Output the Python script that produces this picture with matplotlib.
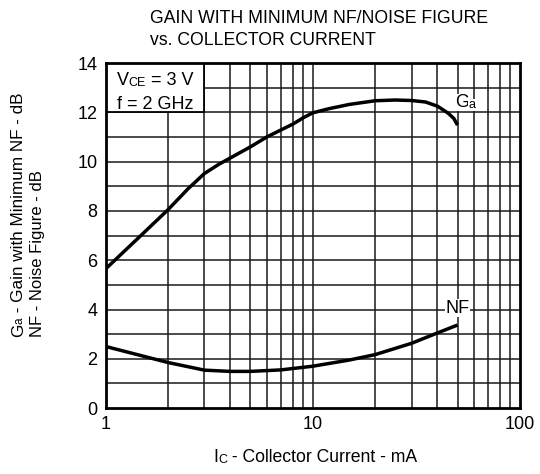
import matplotlib
matplotlib.use("Agg")
import matplotlib.pyplot as plt
from matplotlib.patches import Rectangle

fam = 'Liberation Sans'
plt.rcParams['font.family'] = [fam, 'DejaVu Sans']

ic_ga = [1, 1.5, 2, 2.5, 3, 3.5, 4, 5, 6, 7, 8, 9, 10, 12, 15, 20, 25, 30, 35, 40, 45, 48, 50]
ga = [5.65, 7.05, 8.05, 8.9, 9.52, 9.88, 10.15, 10.6, 11.0, 11.28, 11.52, 11.78, 11.98,
      12.15, 12.32, 12.47, 12.5, 12.48, 12.42, 12.25, 11.97, 11.75, 11.48]
ic_nf = [1, 1.5, 2, 3, 4, 5, 7, 10, 15, 20, 30, 40, 50]
nf = [2.5, 2.12, 1.85, 1.54, 1.49, 1.49, 1.55, 1.7, 1.95, 2.17, 2.63, 3.05, 3.37]

x_ticks = [1, 10, 100]
x_ticklabels = ['1', '10', '100']
y_ticks = [0, 2, 4, 6, 8, 10, 12, 14]

fig = plt.figure(figsize=(5.4, 4.74), dpi=100)
ax = fig.add_axes([0.1957, 0.139, 0.767, 0.728])
ax.set_xscale('log')
ax.set_xlim(1, 100)
ax.set_ylim(0, 14)

minor = [m * d for d in (1, 10) for m in range(2, 10)]
for x in minor + [10]:
    ax.axvline(x, color='#1a1a1a', lw=1.1, zorder=1)
for y in range(1, 14):
    ax.axhline(y, color='#1a1a1a', lw=1.1, zorder=1)

ax.plot(ic_ga, ga, color='black', lw=2.5, zorder=3, solid_capstyle='butt', solid_joinstyle='round')
ax.plot(ic_nf, nf, color='black', lw=2.5, zorder=3, solid_capstyle='butt', solid_joinstyle='round')

ax.set_xticks(x_ticks)
ax.set_xticklabels(x_ticklabels)
ax.xaxis.set_minor_locator(matplotlib.ticker.NullLocator())
ax.set_yticks(y_ticks)
ax.tick_params(length=0, labelsize=13, pad=6)
for s in ax.spines.values():
    s.set_linewidth(2.0)
    s.set_zorder(5)

# Condition box
ax.add_patch(Rectangle((1, 12), 2, 2, facecolor='white', edgecolor='black', lw=1.3, zorder=2))
t1 = ax.text(1.13, 13.1, 'V', fontsize=13, va='baseline', zorder=6)
t1c = ax.annotate('CE', xy=(1, 0), xycoords=t1, fontsize=9, va='bottom', ha='left', zorder=6)
ax.annotate(' = 3 V', xy=(1, 0), xycoords=t1c, fontsize=13, va='bottom', ha='left', zorder=6)
ax.text(1.13, 12.12, 'f = 2 GHz', fontsize=13, va='baseline', zorder=6)

# Curve labels
tg = ax.text(48.5, 12.22, 'G', fontsize=13, va='baseline', ha='left', zorder=6,
             bbox=dict(facecolor='white', edgecolor='none', pad=0.3))
ax.annotate('a', xy=(1, 0), xycoords=tg, fontsize=9, va='bottom', ha='left', zorder=6,
            bbox=dict(facecolor='white', edgecolor='none', pad=0.3))
ax.text(50, 4.05, 'NF', fontsize=13, ha='center', va='center', zorder=6,
        bbox=dict(facecolor='white', edgecolor='none', pad=0.3))

fig.text(0.278, 0.962, 'GAIN WITH MINIMUM NF/NOISE FIGURE', fontsize=12.7, ha='left', va='center')
fig.text(0.278, 0.915, 'vs. COLLECTOR CURRENT', fontsize=12.7, ha='left', va='center')

# X label
tx = fig.text(0.395, 0.035, 'I', fontsize=12.7, ha='left', va='center')
ta = ax.annotate('C', xy=(1, 0), xycoords=tx, fontsize=9, va='bottom', ha='left', annotation_clip=False)
ax.annotate(' - Collector Current - mA', xy=(1, 0), xycoords=ta, fontsize=12.7, va='bottom', ha='left',
            annotation_clip=False)

# Y labels (rotated; baseline on the right side)
ty = fig.text(0.034, 0.289, 'G', fontsize=12.3, rotation=90, ha='center', va='bottom')
tya = ax.annotate('a', xy=(1, 1), xycoords=ty, fontsize=8.5, rotation=90, ha='right', va='bottom',
                  annotation_clip=False)
ax.annotate(' - Gain with Minimum NF - dB', xy=(1, 1), xycoords=tya, fontsize=12.3, rotation=90,
            ha='right', va='bottom', annotation_clip=False)
fig.text(0.070, 0.289, 'NF - Noise Figure - dB', fontsize=12.0, rotation=90, ha='center', va='bottom')

fig.savefig('out.png', dpi=100)
